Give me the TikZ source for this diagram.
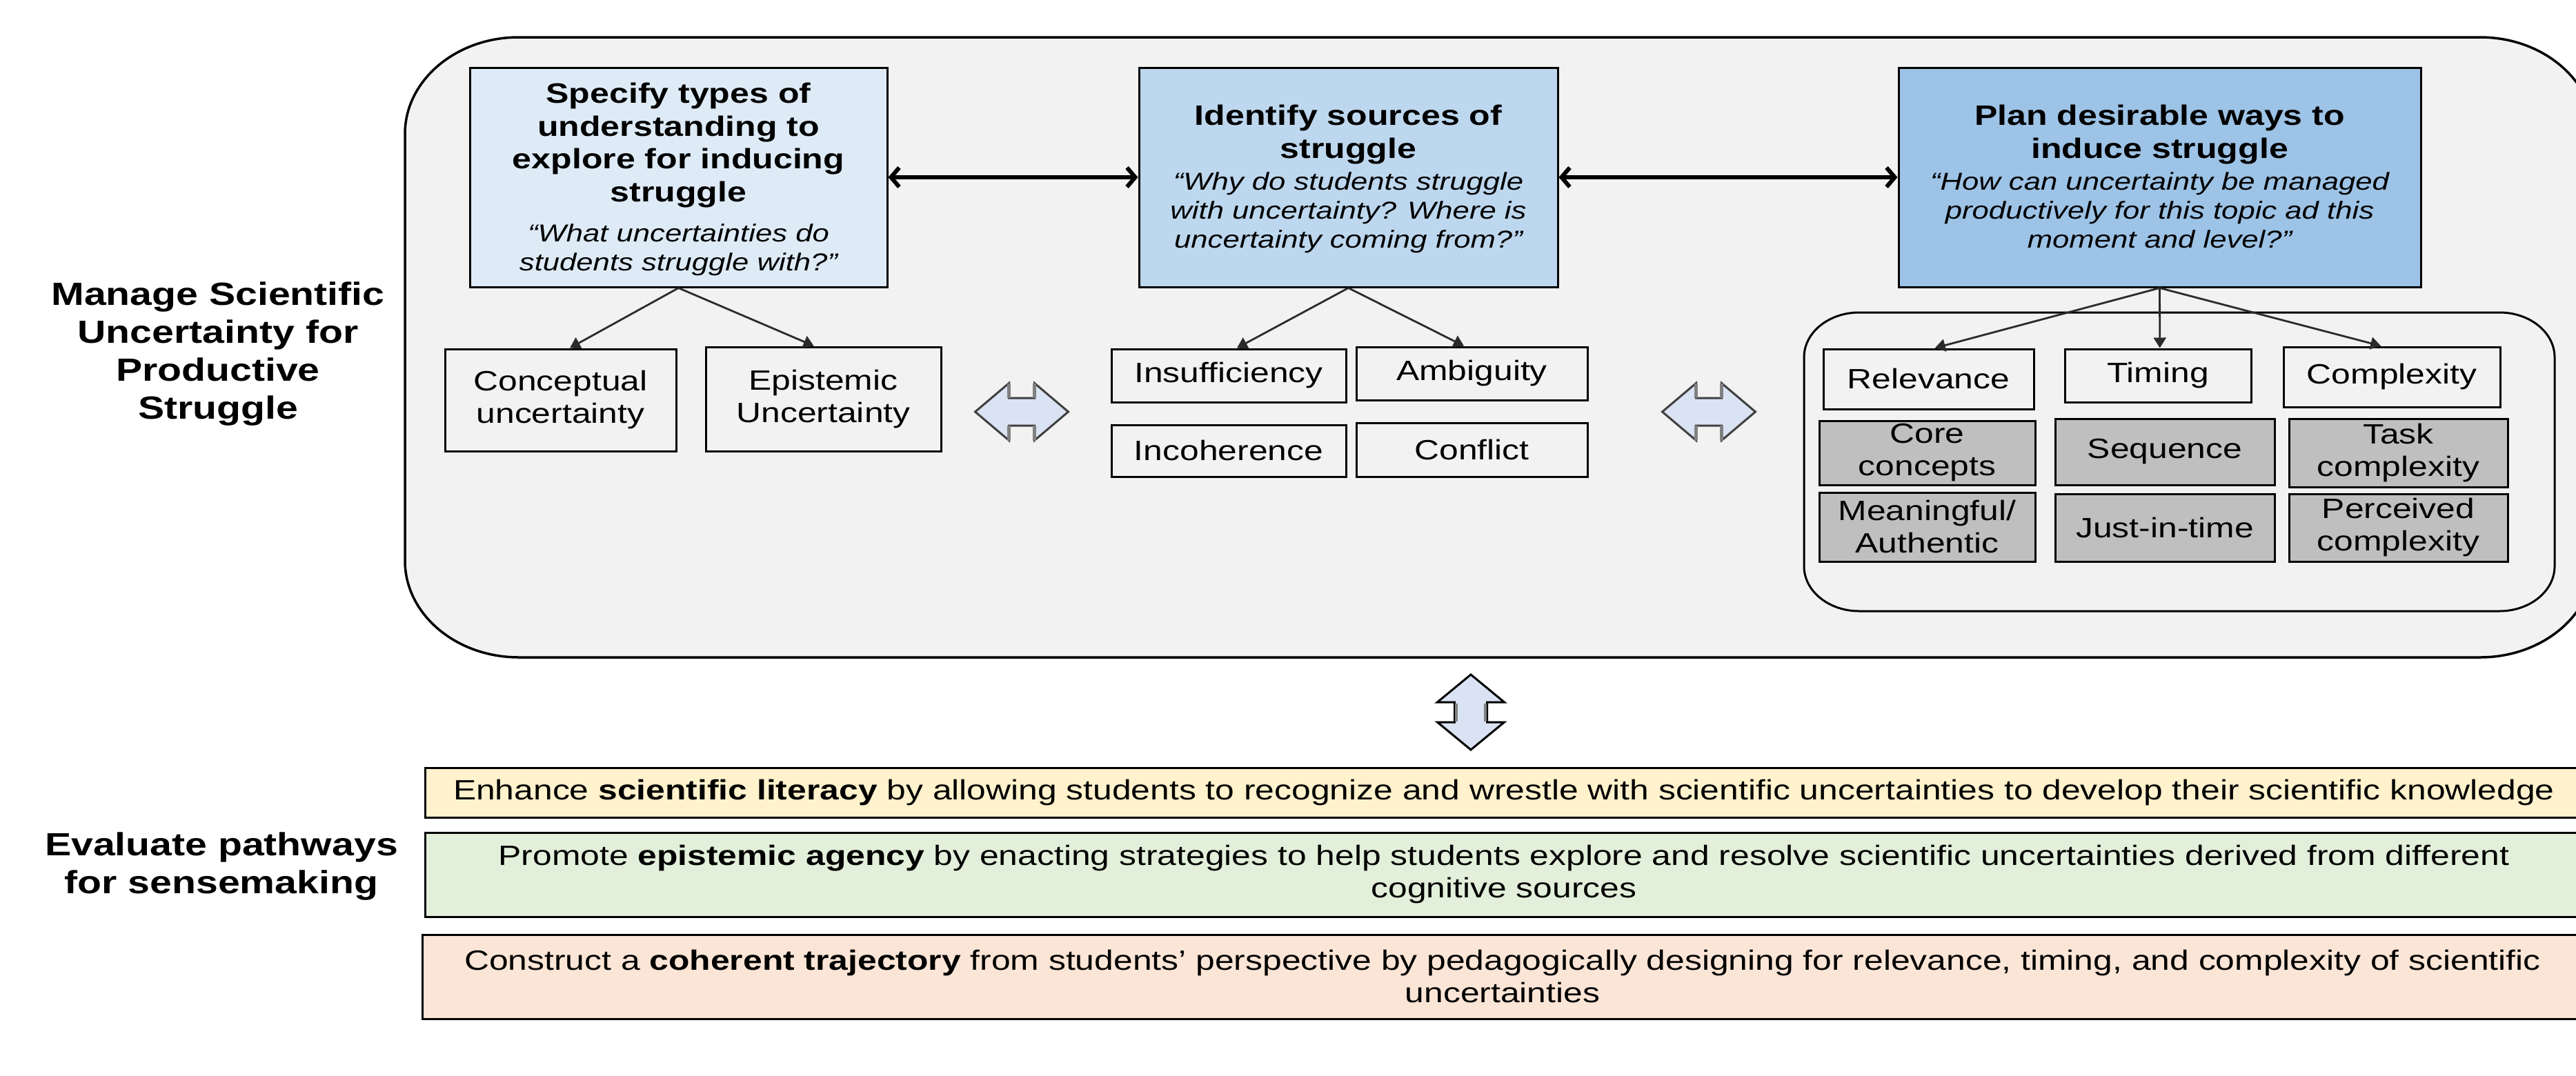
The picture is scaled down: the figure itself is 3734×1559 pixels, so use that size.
\documentclass[tikz,border=0pt]{standalone}
\usepackage{fontspec}
\setmainfont{Liberation Sans}[FakeStretch=1.23]
\usetikzlibrary{arrows.meta,calc}

\definecolor{panel}{HTML}{F2F2F2}
\definecolor{blueA}{HTML}{DEEBF7}
\definecolor{blueB}{HTML}{BDD7EE}
\definecolor{blueC}{HTML}{9DC3E6}
\definecolor{cellgray}{HTML}{BFBFBF}
\definecolor{fatfill}{HTML}{DAE3F3}
\definecolor{fatline}{HTML}{404040}
\definecolor{fatshade}{HTML}{808080}
\definecolor{yellowband}{HTML}{FFF2CC}
\definecolor{greenband}{HTML}{E2EFDA}
\definecolor{peachband}{HTML}{FBE5D6}
\definecolor{linkgray}{HTML}{2B2B2B}

\newcommand{\fbody}{\fontsize{40.5}{47}\selectfont}
\newcommand{\ftitle}{\fontsize{40.7}{47.5}\selectfont\bfseries}
\newcommand{\fquote}{\fontsize{35.5}{42}\selectfont\itshape}
\newcommand{\fside}{\fontsize{46.5}{55}\selectfont\bfseries}

% rounded rectangle with elliptical corners: left, top, right, bottom, rx, ry
\newcommand{\ovalbox}[7]{%
  \draw[#7] (#1+#5,#2) -- (#3-#5,#2)
    arc[start angle=-90,end angle=0,x radius=#5,y radius=#6]
    -- (#3,#4-#6)
    arc[start angle=0,end angle=90,x radius=#5,y radius=#6]
    -- (#1+#5,#4)
    arc[start angle=90,end angle=180,x radius=#5,y radius=#6]
    -- (#1,#2+#6)
    arc[start angle=180,end angle=270,x radius=#5,y radius=#6]
    -- cycle;}

% horizontal block double arrow centred on a coordinate
\newcommand{\hblockarrow}[1]{%
  \draw[fatarrow] (#1) ++(-67.5,0) -- ++(49,-41.5) -- ++(0,21.5) -- ++(37,0) -- ++(0,-21.5)
    -- ++(49,41.5) -- ++(-49,41.5) -- ++(0,-21.5) -- ++(-37,0) -- ++(0,21.5) -- cycle;
  \draw[notchshade] (#1) ++(-18.5,-41.5) -- ++(0,21.5) ++(37,0) -- ++(0,-21.5);
  \draw[notchshade] (#1) ++(-18.5,41.5) -- ++(0,-21.5) ++(37,0) -- ++(0,21.5);}

\tikzset{
  stage/.style={draw, line width=3pt, inner sep=0pt},
  cellbox/.style={draw, line width=3pt, inner sep=0pt, align=center, font=\fbody, fill=panel},
  graycell/.style={cellbox, fill=cellgray},
  band/.style={draw, line width=3pt, inner sep=0pt, align=center, font=\fbody},
  titletext/.style={inner sep=0pt, align=center, font=\ftitle},
  quotetext/.style={inner sep=0pt, align=center, font=\fquote},
  sidetext/.style={inner sep=0pt, align=center, font=\fside},
  link/.style={draw=linkgray, line width=2.8pt, -{Triangle[length=15pt,width=18pt]}},
  bigarrow/.style={line width=6pt, {Straight Barb[length=12pt,width=28pt]}-{Straight Barb[length=12pt,width=28pt]}},
  fatarrow/.style={draw=fatline, fill=fatfill, line width=3pt, line join=miter},
  notchshade/.style={draw=fatshade, line width=4.5pt},
}

\begin{document}
\begin{tikzpicture}[x=1pt,y=-1pt]
\useasboundingbox (0,0) rectangle (3734,1559);
\clip (0,0) rectangle (3734,1559);
\fill[white] (0,0) rectangle (3734,1559);

% outer panel and inner group
\ovalbox{587}{54}{3760}{953}{165}{140}{fill=panel, draw=black, line width=3.5pt}
\ovalbox{2615}{453}{3703}{886}{80}{65}{draw=black, line width=3pt}

% side labels
\node[sidetext] (manage) at (316,513) {Manage Scientific\\Uncertainty for\\Productive\\Struggle};
\node[sidetext] (evaluate) at (321,1256) {Evaluate pathways\\for sensemaking};

% three stages
\node[stage, fill=blueA, minimum width=605pt, minimum height=318pt] (specify) at (983.5,257) {};
\node[stage, fill=blueB, minimum width=607pt, minimum height=318pt] (sources) at (1954.5,257) {};
\node[stage, fill=blueC, minimum width=757pt, minimum height=318pt] (plan) at (3130.5,257) {};

\node[titletext] (specifyT) at (983.5,210.5) {Specify types of\\understanding to\\explore for inducing\\struggle};
\node[quotetext] (specifyQ) at (983.5,362) {“What uncertainties do\\students struggle with?”};
\node[titletext] (sourcesT) at (1954.5,195) {Identify sources of\\struggle};
\node[quotetext] (sourcesQ) at (1954.5,308) {“Why do students struggle\\with uncertainty? Where is\\uncertainty coming from?”};
\node[titletext] (planT) at (3130.5,195) {Plan desirable ways to\\induce struggle};
\node[quotetext] (planQ) at (3130.5,305) {“How can uncertainty be managed\\productively for this topic ad this\\moment and level?”};

\draw[bigarrow] (specify.east) -- (sources.west);
\draw[bigarrow] (sources.east) -- (plan.west);

% types of uncertainty
\node[cellbox, minimum width=335pt, minimum height=148pt] (concept) at (812.5,580) {Conceptual\\uncertainty};
\node[cellbox, minimum width=341pt, minimum height=151pt] (epist) at (1193.5,578.5) {Epistemic\\Uncertainty};

% sources of struggle
\node[cellbox, minimum width=340pt, minimum height=77pt] (insuff) at (1781,544.5) {Insufficiency};
\node[cellbox, minimum width=335pt, minimum height=77pt] (ambig) at (2133.5,541.5) {Ambiguity};
\node[cellbox, minimum width=340pt, minimum height=75pt] (incoh) at (1781,653.5) {Incoherence};
\node[cellbox, minimum width=335pt, minimum height=78pt] (confl) at (2133.5,652) {Conflict};

% ways to induce struggle
\node[cellbox, minimum width=305pt, minimum height=87pt] (relev) at (2795.5,549.5) {Relevance};
\node[cellbox, minimum width=270pt, minimum height=77pt] (timing) at (3128,544.5) {Timing};
\node[cellbox, minimum width=314pt, minimum height=87pt] (complex) at (3467,546.5) {Complexity};
\node[graycell, minimum width=313pt, minimum height=93pt] (core) at (2793.5,656.5) {Core\\concepts};
\node[graycell, minimum width=318pt, minimum height=96pt] (sequence) at (3138,655) {Sequence};
\node[graycell, minimum width=317pt, minimum height=99pt] (task) at (3476.5,656.5) {Task\\complexity};
\node[graycell, minimum width=313pt, minimum height=100pt] (meaning) at (2793.5,764) {Meaningful/\\Authentic};
\node[graycell, minimum width=318pt, minimum height=98pt] (justin) at (3138,765) {Just-in-time};
\node[graycell, minimum width=317pt, minimum height=98pt] (perceived) at (3476.5,765) {Perceived\\complexity};

% branching connectors
\draw[link] (specify.south) -- ($(concept.north west)!0.54!(concept.north east)$);
\draw[link] (specify.south) -- ($(epist.north west)!0.46!(epist.north east)$);
\draw[link] (sources.south) -- ($(insuff.north west)!0.535!(insuff.north east)$);
\draw[link] (sources.south) -- ($(ambig.north west)!0.466!(ambig.north east)$);
\draw[link] (plan.south) -- ($(relev.north west)!0.53!(relev.north east)$);
\draw[link] (plan.south) -- ($(timing.north west)!0.51!(timing.north east)$);
\draw[link] (plan.south) -- ($(complex.north west)!0.45!(complex.north east)$);

% block double arrows
\coordinate (dblA) at (1481,597);
\coordinate (dblB) at (2477,597);
\coordinate (dblV) at (2132,978);
\hblockarrow{dblA}
\hblockarrow{dblB}
\draw[fatarrow, draw=black] (dblV) -- ++(48.5,40) -- ++(-25,0) -- ++(0,29) -- ++(25,0)
  -- ++(-48.5,40) -- ++(-48.5,-40) -- ++(25,0) -- ++(0,-29) -- ++(-25,0) -- cycle;
\draw[notchshade] (dblV) ++(-21,41.5) -- ++(0,26);
\draw[notchshade] (dblV) ++(21,41.5) -- ++(0,26);

% pathways for sensemaking
\node[band, fill=yellowband, minimum width=3128pt, minimum height=72pt] (literacy) at (2180,1149)
  {Enhance \textbf{scientific literacy} by allowing students to recognize and wrestle with scientific uncertainties to develop their scientific knowledge};
\node[band, fill=greenband, minimum width=3128pt, minimum height=122pt] (agency) at (2180,1268)
  {Promote \textbf{epistemic agency} by enacting strategies to help students explore and resolve scientific uncertainties derived from different\\cognitive sources};
\node[band, fill=peachband, minimum width=3132pt, minimum height=122pt] (trajectory) at (2178,1416)
  {Construct a \textbf{coherent trajectory} from students’ perspective by pedagogically designing for relevance, timing, and complexity of scientific\\uncertainties};
\end{tikzpicture}
\end{document}
